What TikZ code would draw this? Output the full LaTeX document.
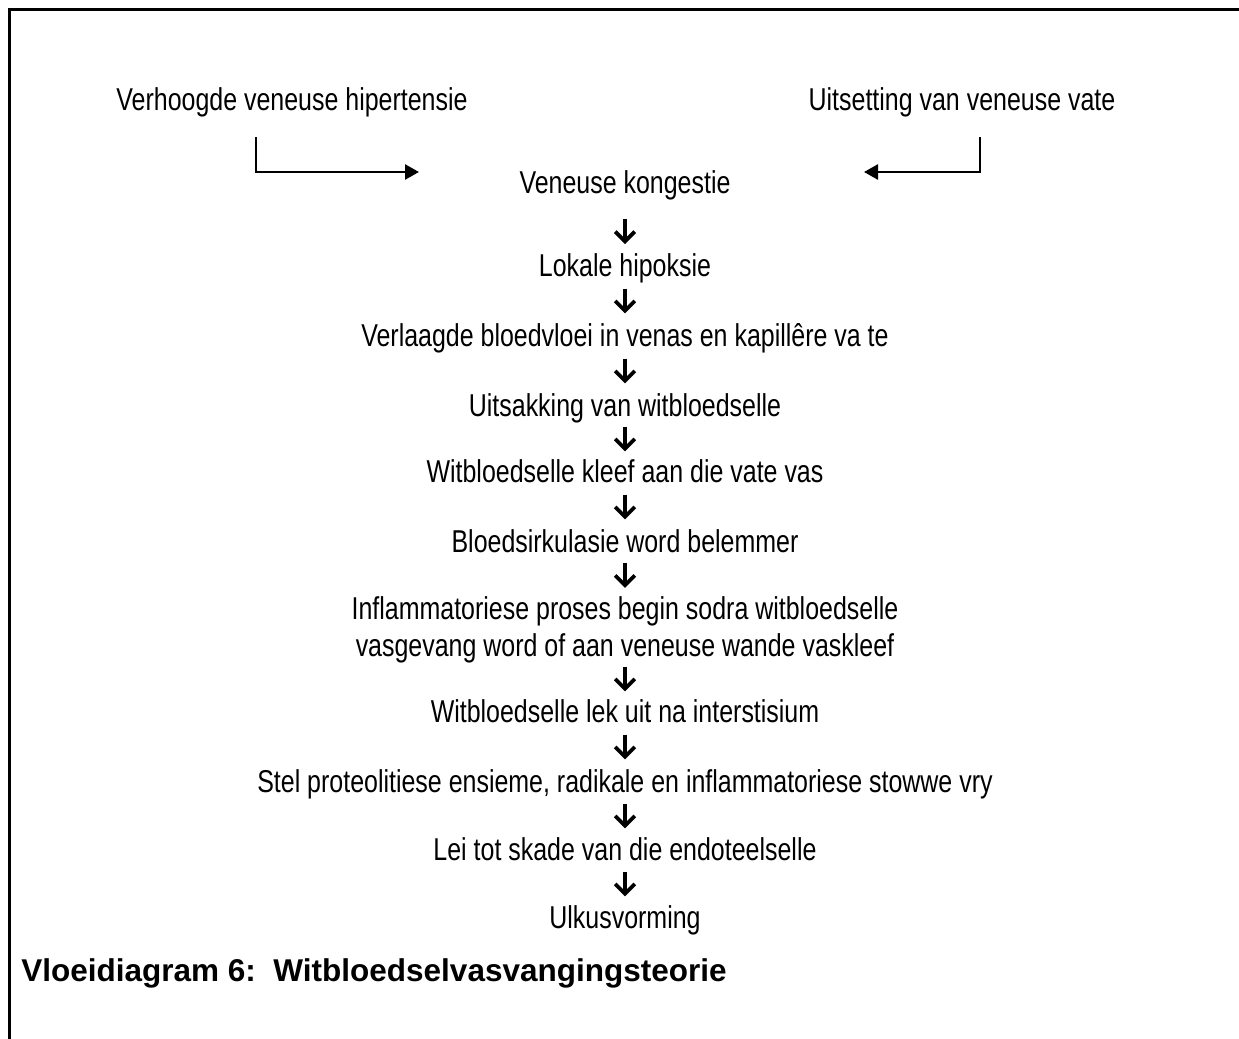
\documentclass[tikz,border=0pt]{standalone}
\usepackage{fontspec}
\setmainfont{Liberation Sans}[FakeStretch=0.79]
\newfontfamily\headfont{Liberation Sans}
\usetikzlibrary{arrows.meta,decorations.markings}

\begin{document}
\begin{tikzpicture}[x=0.5pt,y=-0.5pt,
  body/.style={inner sep=0pt, text height=11.3pt, text depth=0pt, anchor=base,
    font=\fontsize{15.8pt}{18.5pt}\selectfont},
  elbow/.style={line width=1.3pt, -{Triangle[length=7pt,width=7.5pt]}},
  frame/.style={line width=1.5pt, line join=miter},
  dn/.style={decoration={markings, mark=at position #1 with {
      \draw[line width=1.9pt] (-5.5pt,0) -- (4.5pt,0);
      \draw[line width=1.9pt, line join=miter] (0.6pt,4.9pt) -- (5.5pt,0) -- (0.6pt,-4.9pt);}},
    postaction=decorate},
  dn/.default=0.5
]
\useasboundingbox (0,0) rectangle (1239,1039);
\fill[white] (0,0) rectangle (1239,1039);

% open frame: top and left edges only
\draw[frame] (9,1039) -- (9,9) -- (1239,9);

% causes
\node[body] (verh) at (292,110) {Verhoogde veneuse hipertensie};
\node[body] (uits) at (962,110) {Uitsetting van veneuse vate};

% chain of events
\node[body] (kong) at (625,193) {Veneuse kongestie};
\node[body] (lok) at (625,276) {Lokale hipoksie};
\node[body] (verl) at (625,346) {Verlaagde bloedvloei in venas en kapillêre va te};
\node[body] (uitsak) at (625,416) {Uitsakking van witbloedselle};
\node[body] (kleef) at (625,482) {Witbloedselle kleef aan die vate vas};
\node[body] (bloed) at (625,552) {Bloedsirkulasie word belemmer};
\node[body, text depth=18.5pt] (infl) at (625,619)
  {\begin{tabular}[t]{@{}c@{}}Inflammatoriese proses begin sodra witbloedselle\\
   vasgevang word of aan veneuse wande vaskleef\end{tabular}};
\node[body] (lek) at (625,722) {Witbloedselle lek uit na interstisium};
\node[body] (stel) at (625,792) {Stel proteolitiese ensieme, radikale en inflammatoriese stowwe vry};
\node[body] (lei) at (625,860) {Lei tot skade van die endoteelselle};
\node[body] (ulk) at (625,928) {Ulkusvorming};

% caption
\node[inner sep=0pt, anchor=base west,
  font=\headfont\bfseries\fontsize{15.75pt}{18pt}\selectfont] (title) at (21,981)
  {Vloeidiagram 6:~~Witbloedselvasvangingsteorie};

% elbow connectors from the two causes
\coordinate (lA) at (256,137);
\coordinate (lB) at (419,172);
\coordinate (rA) at (980,137);
\coordinate (rB) at (864,172);
\draw[elbow] (lA) |- (lB);
\draw[elbow] (rA) |- (rB);

% downward arrows between steps
\path[dn=0.62] (kong.south) -- (lok.north);
\path[dn] (lok.south) -- (verl.north);
\path[dn] (verl.south) -- (uitsak.north);
\path[dn] (uitsak.south) -- (kleef.north);
\path[dn] (kleef.south) -- (bloed.north);
\path[dn] (bloed.south) -- (infl.north);
\path[dn] (infl.south) -- (lek.north);
\path[dn] (lek.south) -- (stel.north);
\path[dn] (stel.south) -- (lei.north);
\path[dn] (lei.south) -- (ulk.north);
\end{tikzpicture}
\end{document}
